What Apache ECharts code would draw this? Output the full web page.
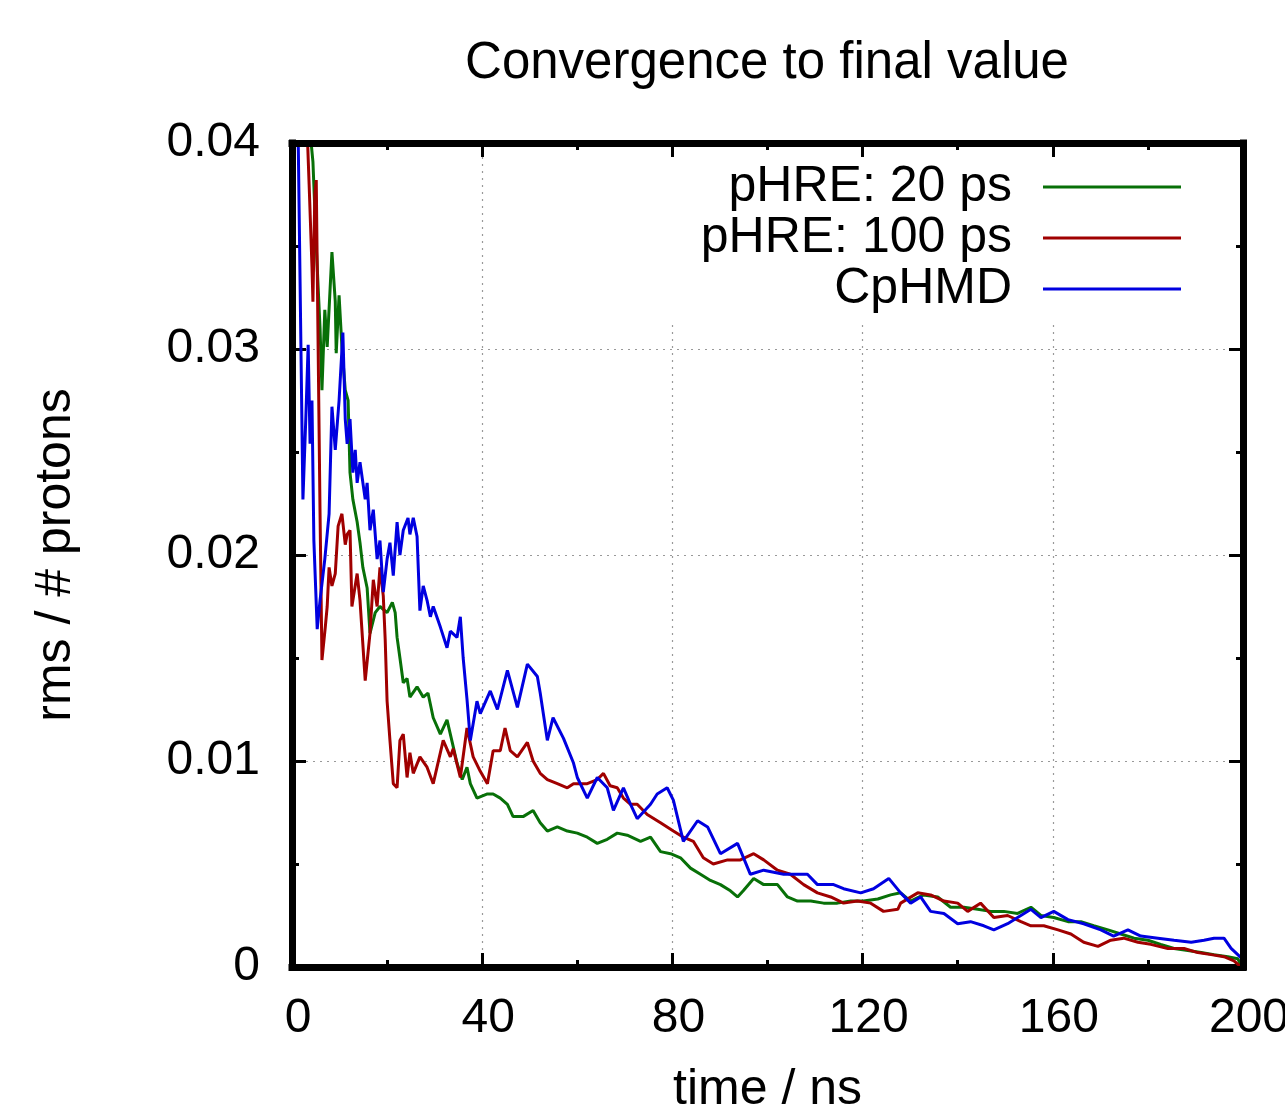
<!DOCTYPE html>
<html>
<head>
<meta charset="utf-8">
<script src="https://cdn.jsdelivr.net/npm/echarts@6/dist/echarts.min.js"></script>
<style>html,body{margin:0;padding:0;background:#fff}#c{width:1285px;height:1116px}</style>
</head>
<body>
<div id="c"></div>
<script>
const titleText = 'Convergence to final value';
const xName = 'time / ns';
const yName = 'rms / # protons';
const seriesNames = ['pHRE: 20 ps', 'pHRE: 100 ps', 'CpHMD'];
const seriesColors = ['#087008', '#a00000', '#0000e0'];

const pHRE20 = [
[2.1,0.048],[3.2,0.042],[4.4,0.0391],[5.1,0.0350],[5.9,0.0310],[6.3,0.0280],[6.9,0.0319],[7.4,0.0301],[8.4,0.0347],[9.1,0.0323],[9.3,0.0298],[9.9,0.0326],[10.5,0.0301],[11.2,0.0280],[11.8,0.0275],[12.2,0.0240],[12.8,0.0227],[13.7,0.0216],[14.3,0.0206],[14.9,0.0194],[15.8,0.0184],[16.4,0.0162],[17.5,0.0172],[18.5,0.0175],[20.0,0.0172],[21.1,0.0177],[21.7,0.0172],[22.1,0.0160],[22.7,0.0150],[23.4,0.0138],[24.2,0.0140],[24.8,0.0131],[26.3,0.0136],[27.6,0.0131],[28.6,0.0133],[29.7,0.0121],[31.2,0.0113],[32.6,0.0120],[33.7,0.0109],[34.7,0.0099],[35.8,0.0091],[36.8,0.0097],[37.5,0.0089],[38.9,0.0082],[41.1,0.0084],[42.3,0.0084],[43.8,0.0082],[45.3,0.0079],[46.5,0.0073],[48.6,0.0073],[50.7,0.0076],[52.2,0.0070],[53.7,0.0066],[55.8,0.0068],[57.9,0.0066],[60.0,0.0065],[62.1,0.0063],[64.2,0.0060],[66.3,0.0062],[68.4,0.0065],[70.5,0.0064],[73.3,0.0061],[75.4,0.0063],[77.5,0.0056],[79.6,0.0055],[81.7,0.0053],[83.8,0.0048],[85.9,0.0045],[88.0,0.0042],[90.1,0.0040],[92.2,0.0037],[93.7,0.0034],[94.9,0.0037],[97.1,0.0043],[99.2,0.0040],[102.1,0.0040],[104.2,0.0034],[106.3,0.0032],[109.1,0.0032],[111.8,0.0031],[114.7,0.0031],[117.5,0.0032],[120.2,0.0032],[123.2,0.0033],[125.9,0.0035],[128.0,0.0036],[130.1,0.0032],[132.8,0.0035],[135.8,0.0034],[138.5,0.0029],[141.3,0.0029],[144.2,0.0028],[146.9,0.0027],[149.7,0.0027],[152.6,0.0026],[155.4,0.0029],[157.5,0.0025],[160.2,0.0024],[163.2,0.0022],[165.9,0.0022],[168.6,0.0020],[171.6,0.0018],[174.3,0.0016],[177.1,0.0014],[180.0,0.0013],[182.7,0.0011],[185.5,0.0009],[188.4,0.0008],[191.2,0.0007],[193.9,0.0006],[196.8,0.0005],[198.9,0.0004],[199.6,0.0001]
];

const pHRE100 = [
[2.5,0.045],[3.6,0.038],[4.2,0.0340],[4.4,0.0323],[4.8,0.0375],[5.1,0.0382],[5.5,0.0300],[5.9,0.0220],[6.3,0.0149],[7.0,0.0165],[7.4,0.0175],[7.8,0.0194],[8.4,0.0185],[9.1,0.0191],[9.7,0.0214],[10.5,0.0220],[11.2,0.0205],[11.6,0.0210],[12.2,0.0212],[12.6,0.0175],[13.7,0.0191],[14.3,0.0178],[15.4,0.0139],[16.4,0.0162],[17.1,0.0188],[17.9,0.0175],[18.5,0.0194],[19.2,0.0180],[19.6,0.0159],[20.0,0.0129],[20.6,0.0110],[21.3,0.0089],[22.1,0.0087],[22.7,0.0110],[23.4,0.0113],[24.2,0.0092],[24.8,0.0104],[25.5,0.0094],[26.9,0.0102],[28.4,0.0097],[29.7,0.0089],[30.5,0.0097],[31.8,0.0110],[33.3,0.0102],[33.9,0.0106],[35.4,0.0092],[36.8,0.0116],[38.1,0.0102],[39.6,0.0095],[41.1,0.0089],[42.3,0.0105],[43.8,0.0105],[44.8,0.0116],[45.9,0.0105],[47.4,0.0102],[49.5,0.0109],[50.7,0.0100],[52.2,0.0094],[53.7,0.0091],[55.8,0.0089],[57.9,0.0087],[59.2,0.0089],[62.1,0.0089],[64.2,0.0091],[65.5,0.0094],[66.9,0.0088],[68.4,0.0087],[69.7,0.0082],[71.2,0.0079],[72.6,0.0079],[74.7,0.0074],[77.5,0.0070],[80.2,0.0066],[82.3,0.0063],[84.4,0.0061],[86.5,0.0053],[88.6,0.0050],[91.6,0.0052],[94.3,0.0052],[97.1,0.0055],[99.2,0.0052],[102.1,0.0047],[104.8,0.0045],[107.6,0.0040],[110.5,0.0036],[113.3,0.0034],[116.0,0.0031],[118.9,0.0032],[121.7,0.0031],[124.4,0.0027],[127.4,0.0028],[128.0,0.0031],[131.6,0.0036],[134.3,0.0035],[137.1,0.0032],[140.0,0.0031],[142.1,0.0027],[144.8,0.0031],[147.6,0.0024],[150.5,0.0025],[153.3,0.0022],[155.4,0.0020],[158.1,0.0020],[161.1,0.0018],[163.8,0.0016],[166.5,0.0012],[169.5,0.0010],[172.2,0.0013],[174.9,0.0014],[177.9,0.0012],[180.6,0.0011],[184.2,0.0009],[187.6,0.0009],[190.5,0.0007],[193.3,0.0006],[196.0,0.0005],[198.1,0.0003],[199.6,0.0000]
];

const cpHMD = [
[1.2,0.042],[2.3,0.0227],[2.9,0.0266],[3.4,0.0302],[3.8,0.0254],[4.2,0.0275],[4.6,0.0207],[5.3,0.0164],[5.9,0.0178],[6.9,0.0198],[7.8,0.0220],[8.4,0.0272],[9.1,0.0251],[9.9,0.0275],[10.7,0.0308],[11.2,0.0266],[11.6,0.0254],[12.2,0.0266],[12.8,0.0240],[13.3,0.0251],[13.7,0.0235],[14.3,0.0245],[15.4,0.0227],[15.8,0.0235],[16.4,0.0212],[17.1,0.0222],[17.9,0.0198],[18.5,0.0207],[19.2,0.0182],[20.0,0.0198],[20.6,0.0206],[21.3,0.0190],[22.1,0.0216],[22.7,0.0200],[23.4,0.0212],[24.4,0.0218],[24.8,0.0210],[25.5,0.0218],[26.3,0.0209],[26.9,0.0173],[27.6,0.0185],[28.4,0.0178],[29.1,0.0170],[29.7,0.0175],[31.2,0.0165],[32.6,0.0155],[33.3,0.0163],[34.7,0.0160],[35.4,0.0170],[36.0,0.0150],[36.8,0.0130],[37.5,0.0110],[38.9,0.0129],[39.6,0.0123],[41.7,0.0134],[43.2,0.0125],[45.3,0.0144],[47.4,0.0126],[49.5,0.0147],[51.6,0.0141],[52.2,0.0133],[53.7,0.0110],[54.9,0.0121],[57.1,0.0111],[59.2,0.0099],[60.0,0.0092],[62.1,0.0082],[64.2,0.0092],[66.3,0.0087],[67.6,0.0076],[69.7,0.0087],[71.2,0.0079],[72.6,0.0072],[75.4,0.0079],[76.8,0.0084],[78.9,0.0087],[80.2,0.0081],[82.3,0.0061],[85.3,0.0071],[87.4,0.0068],[90.1,0.0055],[93.7,0.0060],[96.4,0.0045],[99.2,0.0047],[103.4,0.0045],[108.4,0.0045],[110.5,0.0040],[113.9,0.0040],[116.0,0.0038],[119.6,0.0036],[122.3,0.0038],[125.5,0.0043],[128.0,0.0036],[130.1,0.0031],[132.2,0.0034],[134.3,0.0027],[137.1,0.0026],[140.0,0.0021],[142.7,0.0022],[145.5,0.0020],[147.6,0.0018],[150.5,0.0021],[152.6,0.0024],[155.4,0.0028],[157.5,0.0024],[160.2,0.0027],[163.2,0.0023],[166.5,0.0021],[170.1,0.0018],[172.8,0.0015],[175.8,0.0018],[178.5,0.0015],[182.1,0.0014],[185.5,0.0013],[189.1,0.0012],[191.8,0.0013],[193.9,0.0014],[196.0,0.0014],[197.5,0.0009],[198.9,0.0006],[199.8,0.0004]
];

const xMin = 0, xMax = 200, xStep = 40;
const yMin = 0, yMax = 0.04, yStep = 0.01;

const FONT = 'Liberation Sans, Arial, Helvetica, sans-serif';
const chart = echarts.init(document.getElementById('c'), null, {renderer: 'canvas'});

const frameLine = {show: true, onZero: false, lineStyle: {color: '#000', width: 7, cap: 'square'}};
const tickStyle = {show: true, inside: true, length: 14, lineStyle: {color: '#000', width: 3}};
const minorStyle = {show: true, splitNumber: 2, length: 7, lineStyle: {color: '#000', width: 3}};
const gridLine = {show: true, lineStyle: {color: '#999', width: 1.2, type: [2, 5]}};

const option = {
  animation: false,
  backgroundColor: '#fff',
  title: {
    text: titleText, left: 767, top: 38, textAlign: 'center', padding: 0,
    textStyle: {fontFamily: FONT, fontSize: 51, fontWeight: 'normal', color: '#000'}
  },
  legend: {
    data: seriesNames, orient: 'vertical', align: 'right',
    right: 44, top: 150,
    padding: [12, 60, 10, 50],
    backgroundColor: '#fff',
    icon: 'rect',
    itemWidth: 138, itemHeight: 3, itemGap: 1,
    textStyle: {fontFamily: FONT, fontSize: 50, color: '#000', lineHeight: 50, padding: [0, 26, 0, 0]},
    selectedMode: false
  },
  grid: {left: 292, right: 42, top: 143, bottom: 149, containLabel: false, outerBoundsMode: 'none'},
  xAxis: [{
    type: 'value', position: 'bottom', min: xMin, max: xMax, interval: xStep,
    name: xName, nameLocation: 'middle', nameGap: 98,
    nameTextStyle: {fontFamily: FONT, fontSize: 50, color: '#000'},
    axisLine: frameLine, axisTick: tickStyle, minorTick: minorStyle,
    axisLabel: {fontFamily: FONT, fontSize: 48, color: '#000', margin: 28, padding: [0, 0, 0, 12]},
    splitLine: gridLine
  }, {
    type: 'value', position: 'top', min: xMin, max: xMax, interval: xStep, z: 10,
    axisLine: frameLine, axisTick: tickStyle, minorTick: minorStyle,
    axisLabel: {show: false}, splitLine: {show: false}
  }],
  yAxis: [{
    type: 'value', position: 'left', min: yMin, max: yMax, interval: yStep,
    name: yName, nameLocation: 'middle', nameGap: 211,
    nameTextStyle: {fontFamily: FONT, fontSize: 50, color: '#000'},
    axisLine: frameLine, axisTick: tickStyle, minorTick: minorStyle,
    axisLabel: {fontFamily: FONT, fontSize: 48, color: '#000', margin: 32,
      formatter: v => v === 0 ? '0' : v.toFixed(2)},
    splitLine: gridLine
  }, {
    type: 'value', position: 'right', min: yMin, max: yMax, interval: yStep, z: 10,
    axisLine: frameLine, axisTick: tickStyle, minorTick: minorStyle,
    axisLabel: {show: false}, splitLine: {show: false}
  }],
  series: [pHRE20, pHRE100, cpHMD].map((d, i) => ({
    name: seriesNames[i], type: 'line', data: d, xAxisIndex: 0, yAxisIndex: 0,
    symbol: 'none', showSymbol: false, clip: true,
    lineStyle: {color: seriesColors[i], width: 3},
    itemStyle: {color: seriesColors[i]}
  }))
};
chart.setOption(option);
</script>
</body>
</html>
